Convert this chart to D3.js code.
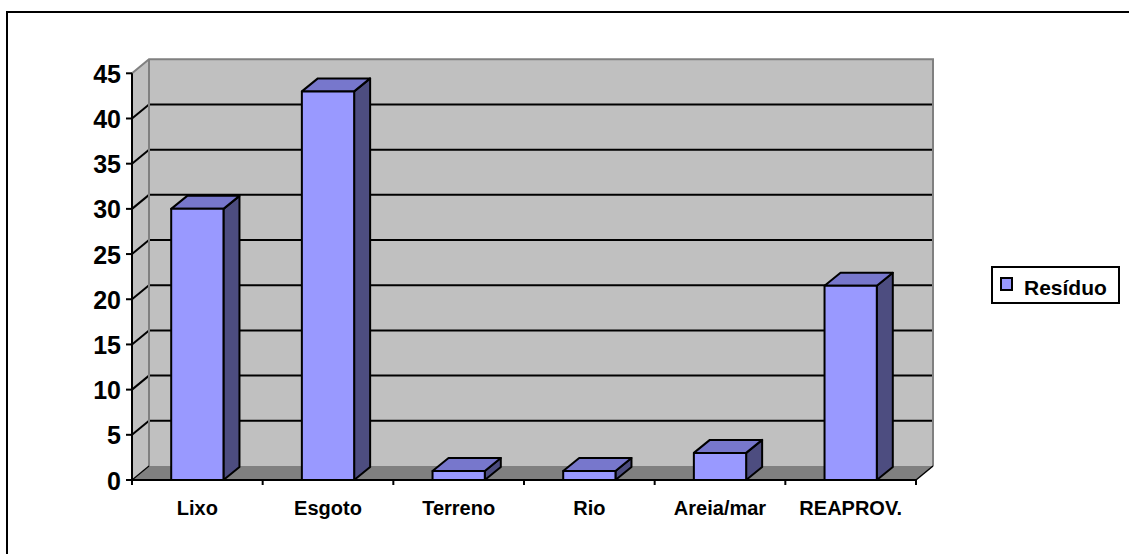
<!DOCTYPE html>
<html>
<head>
<meta charset="utf-8">
<script src="https://cdn.jsdelivr.net/npm/d3@7"></script>
<style>
  html, body { margin: 0; padding: 0; background: #fff; }
  svg { display: block; }
  text { font-family: "Liberation Sans", Arial, sans-serif; font-weight: bold; fill: #000; }
</style>
</head>
<body>
<svg id="chart" width="1129" height="554"></svg>
<script>
const categories = ["Lixo", "Esgoto", "Terreno", "Rio", "Areia/mar", "REAPROV."];
const values = [30, 43, 1, 1, 3, 21.5];
const seriesName = "Resíduo";
const yTicks = [0, 5, 10, 15, 20, 25, 30, 35, 40, 45];

const svg = d3.select("#chart");

// outer frame (right/bottom extend beyond view)
svg.append("rect").attr("x", 7).attr("y", 12).attr("width", 1140).attr("height", 600)
  .attr("fill", "none").attr("stroke", "#000").attr("stroke-width", 2);

const pL = 132, pR = 916, pB = 480, pT = 73.3;
const DX = 17, DY = -14;       // wall depth
const BDX = 16, BDY = -13;     // bar depth

const x = d3.scaleBand().domain(categories).range([pL, pR]).padding(0);
const y = d3.scaleLinear().domain([0, 45]).range([pB, pT]);
const pts = a => a.map(p => p.join(",")).join(" ");

const g = svg.append("g");

// left side wall
g.append("polygon")
  .attr("points", pts([[pL, y(45)], [pL + DX, y(45) + DY], [pL + DX, y(0) + DY], [pL, y(0)]]))
  .attr("fill", "#C0C0C0");

// back wall
g.append("rect").attr("x", pL + DX).attr("y", y(45) + DY)
  .attr("width", pR - pL).attr("height", y(0) - y(45))
  .attr("fill", "#C0C0C0");

// floor
g.append("polygon")
  .attr("points", pts([[pL, y(0)], [pR, y(0)], [pR + DX, y(0) + DY], [pL + DX, y(0) + DY]]))
  .attr("fill", "#808080");

// gridlines
yTicks.filter(t => t > 0 && t < 45).forEach(t => {
  g.append("line").attr("x1", pL + DX).attr("x2", pR + DX)
    .attr("y1", y(t) + DY).attr("y2", y(t) + DY)
    .attr("stroke", "#000").attr("stroke-width", 2);
  g.append("line").attr("x1", pL).attr("x2", pL + DX)
    .attr("y1", y(t)).attr("y2", y(t) + DY)
    .attr("stroke", "#000").attr("stroke-width", 2);
});

// wall borders (gray)
g.append("polyline")
  .attr("points", pts([[pL, y(45)], [pL + DX, y(45) + DY], [pR + DX, y(45) + DY], [pR + DX, y(0) + DY]]))
  .attr("fill", "none").attr("stroke", "#808080").attr("stroke-width", 2);
g.append("line").attr("x1", pL + DX).attr("x2", pL + DX)
  .attr("y1", y(45) + DY).attr("y2", y(0) + DY)
  .attr("stroke", "#808080").attr("stroke-width", 2);

// floor edges
g.append("line").attr("x1", pL).attr("y1", y(0)).attr("x2", pL + DX).attr("y2", y(0) + DY)
  .attr("stroke", "#000").attr("stroke-width", 1.2);
g.append("line").attr("x1", pR).attr("y1", y(0)).attr("x2", pR + DX).attr("y2", y(0) + DY)
  .attr("stroke", "#000").attr("stroke-width", 1.5);

// bars
const bw = x.bandwidth() * 0.4;
categories.forEach((c, i) => {
  const cx = x(c) + x.bandwidth() / 2;
  const x0 = cx - bw / 2, x1 = cx + bw / 2;
  const yv = y(values[i]), y0 = y(0);
  const bg = g.append("g").attr("stroke", "#000").attr("stroke-width", 2).attr("stroke-linejoin", "round");
  bg.append("polygon")
    .attr("points", pts([[x1, yv], [x1 + BDX, yv + BDY], [x1 + BDX, y0 + BDY], [x1, y0]]))
    .attr("fill", "#4D4D80");
  bg.append("polygon")
    .attr("points", pts([[x0, yv], [x1, yv], [x1 + BDX, yv + BDY], [x0 + BDX, yv + BDY]]))
    .attr("fill", "#7777CC");
  bg.append("rect").attr("x", x0).attr("y", yv).attr("width", x1 - x0).attr("height", y0 - yv)
    .attr("fill", "#9999FF");
});

// y axis
g.append("line").attr("x1", pL).attr("x2", pL).attr("y1", y(45)).attr("y2", y(0))
  .attr("stroke", "#000").attr("stroke-width", 2);
yTicks.forEach(t => {
  g.append("line").attr("x1", pL - 6).attr("x2", pL).attr("y1", y(t)).attr("y2", y(t))
    .attr("stroke", "#000").attr("stroke-width", 2);
  g.append("text").attr("x", pL - 11).attr("y", y(t) + 9.5)
    .attr("text-anchor", "end").attr("font-size", 25).text(t);
});

// x axis
g.append("line").attr("x1", pL).attr("x2", pR).attr("y1", y(0)).attr("y2", y(0))
  .attr("stroke", "#000").attr("stroke-width", 2);
const bounds = categories.map(c => x(c)).concat([pR]);
bounds.forEach(b => {
  g.append("line").attr("x1", b).attr("x2", b).attr("y1", y(0)).attr("y2", y(0) + 5)
    .attr("stroke", "#000").attr("stroke-width", 2);
});
categories.forEach(c => {
  g.append("text").attr("x", x(c) + x.bandwidth() / 2).attr("y", 515)
    .attr("text-anchor", "middle").attr("font-size", 20).text(c);
});

// legend
const lg = svg.append("g");
lg.append("rect").attr("x", 992).attr("y", 267).attr("width", 127).attr("height", 36)
  .attr("fill", "#fff").attr("stroke", "#000").attr("stroke-width", 2);
lg.append("rect").attr("x", 1001).attr("y", 278).attr("width", 11).attr("height", 12)
  .attr("fill", "#9999FF").attr("stroke", "#000").attr("stroke-width", 2);
lg.append("text").attr("x", 1024).attr("y", 294.5).attr("font-size", 21).text(seriesName);
</script>
</body>
</html>
